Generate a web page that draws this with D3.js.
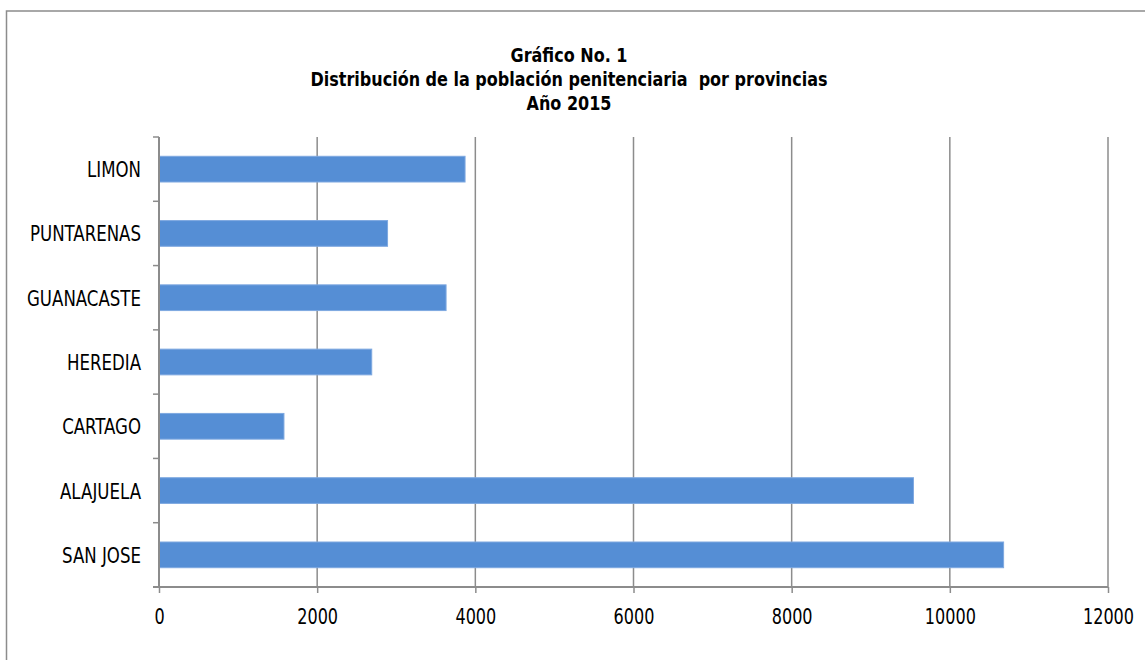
<!DOCTYPE html>
<html>
<head>
<meta charset="utf-8">
<script src="https://cdn.jsdelivr.net/npm/d3@7/dist/d3.min.js"></script>
<style>
  html, body { margin: 0; padding: 0; background: #fff; }
  svg { display: block; }
  text { font-family: "DejaVu Sans Condensed", "DejaVu Sans", sans-serif; fill: #000; }
</style>
</head>
<body>
<svg id="chart" width="1145" height="660"></svg>
<script>
// ---- data ----
const titleLines = ["Gráfico No. 1", "Distribución de la población penitenciaria  por provincias", "Año 2015"];
const categories = ["LIMON", "PUNTARENAS", "GUANACASTE", "HEREDIA", "CARTAGO", "ALAJUELA", "SAN JOSE"];
const values = [3870, 2890, 3630, 2690, 1580, 9540, 10680];
const xTicks = [0, 2000, 4000, 6000, 8000, 10000, 12000];

// ---- layout ----
const plot = { left: 159, right: 1108, top: 137, bottom: 587 };
const svg = d3.select("#chart");
const squeeze = 0.85; // horizontal compression of the text

// outer frame
svg.append("rect")
  .attr("x", 6.5).attr("y", 11)
  .attr("width", 1200).attr("height", 700)
  .attr("fill", "none").attr("stroke", "#8c8c8c").attr("stroke-width", 1.5);

const x = d3.scaleLinear().domain([0, 12000]).range([plot.left, plot.right]);
const y = d3.scaleBand().domain(categories).range([plot.top, plot.bottom])
  .paddingInner(0.6).paddingOuter(0.3);

// gridlines
svg.append("g").selectAll("line").data(xTicks.filter(d => d > 0)).join("line")
  .attr("x1", d => x(d)).attr("x2", d => x(d))
  .attr("y1", plot.top).attr("y2", plot.bottom)
  .attr("stroke", "#8c8c8c").attr("stroke-width", 1.5);

// bars
svg.append("g").selectAll("rect").data(categories).join("rect")
  .attr("x", x(0))
  .attr("y", d => y(d))
  .attr("width", (d, i) => x(values[i]) - x(0))
  .attr("height", y.bandwidth())
  .attr("fill", "#558ed5")
  .attr("stroke", "#7ea8e0").attr("stroke-width", 1);

// x axis
const xAxis = d3.axisBottom(x).tickValues(xTicks).tickSize(6).tickSizeOuter(0).tickPadding(0)
  .tickFormat(d3.format("d"));
const gx = svg.append("g").attr("transform", `translate(0,${plot.bottom})`).call(xAxis);
gx.select(".domain").remove();
gx.append("line").attr("x1", plot.left - 6).attr("x2", plot.right).attr("y1", 0).attr("y2", 0)
  .attr("stroke", "#8c8c8c").attr("stroke-width", 2);
gx.selectAll(".tick line").attr("stroke", "#8c8c8c").attr("stroke-width", 1.5);
gx.selectAll(".tick text")
  .attr("y", 0).attr("dy", 0)
  .attr("transform", `translate(0,37) scale(${squeeze},1)`)
  .attr("font-size", 21).attr("fill", "#000")
  .style("font-family", '"DejaVu Sans Condensed", "DejaVu Sans", sans-serif');

// y axis
const gy = svg.append("g").attr("transform", `translate(${plot.left},0)`);
gy.append("line").attr("x1", 0).attr("x2", 0).attr("y1", plot.top).attr("y2", plot.bottom)
  .attr("stroke", "#8c8c8c").attr("stroke-width", 2);
const bounds = d3.range(categories.length + 1).map(i => plot.top + i * y.step());
gy.selectAll("line.t").data(bounds).join("line").attr("class", "t")
  .attr("x1", -6).attr("x2", 0).attr("y1", d => d).attr("y2", d => d)
  .attr("stroke", "#8c8c8c").attr("stroke-width", 1.5);
gy.selectAll("text").data(categories).join("text")
  .attr("transform", d => `translate(-18,${y(d) + y.bandwidth() / 2 + 8}) scale(0.84,1)`)
  .attr("text-anchor", "end")
  .attr("font-size", 22)
  .text(d => d);

// title
svg.append("g").selectAll("text").data(titleLines).join("text")
  .attr("transform", (d, i) => `translate(569,${62 + i * 24}) scale(0.89,1)`)
  .attr("text-anchor", "middle").attr("font-size", 20).attr("font-weight", "bold")
  .style("white-space", "pre")
  .text(d => d);
</script>
</body>
</html>
